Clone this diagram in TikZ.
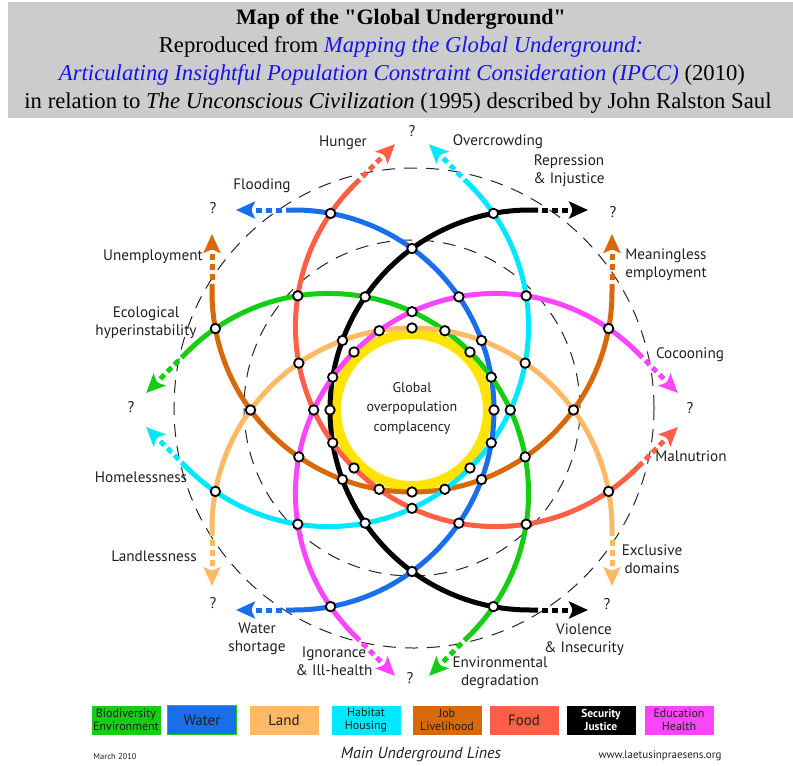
\documentclass[tikz,border=0pt]{standalone}
\usepackage{fontspec}
\setmainfont{Liberation Serif}
\newfontfamily\hdrfont{Liberation Serif}
\newfontfamily\labfont{PT Sans}
\usetikzlibrary{arrows.meta,calc}
\definecolor{cbio}{RGB}{20,205,20}
\definecolor{cwater}{RGB}{25,110,235}
\definecolor{cland}{RGB}{253,185,100}
\definecolor{chab}{RGB}{0,232,255}
\definecolor{cjob}{RGB}{215,105,10}
\definecolor{cfood}{RGB}{255,95,70}
\definecolor{csec}{RGB}{0,0,0}
\definecolor{cedu}{RGB}{250,70,250}
\definecolor{cyel}{RGB}{255,228,0}
\definecolor{hdr}{RGB}{204,204,204}
\definecolor{lnk}{RGB}{20,20,235}
\definecolor{ink}{RGB}{35,31,32}
\begin{document}
\begin{tikzpicture}[x=1pt,y=-1pt,
  lineS/.style={line width=5pt},
  dotS/.style={line width=5pt, dash pattern=on 6pt off 4pt, dash phase=6pt},
  tipS/.style={-{Stealth[length=19pt,width=17pt,inset=4pt]}},
  stn/.style={circle, draw=black, fill=white, line width=1.8pt, minimum size=9.5pt, inner sep=0pt},
  lab/.style={font=\labfont\fontsize{15.2}{18}\selectfont, text=ink, align=center, inner sep=0pt},
  clab/.style={font=\labfont\fontsize{14}{19.5}\selectfont, text=ink, align=center, inner sep=0pt},
  qm/.style={font=\labfont\fontsize{15.5}{16}\selectfont, text=ink, inner sep=0pt},
  dsh/.style={line width=1pt, dash pattern=on 13pt off 9pt, black!85},
  hd/.style={font=\hdrfont\fontsize{22.7}{24}\selectfont, inner sep=0pt},
  leg/.style={minimum width=69pt, minimum height=29pt, inner sep=0pt, align=center, text=ink, font=\labfont\fontsize{12}{13}\selectfont},
]
\useasboundingbox (0,0) rectangle (793,766);
\fill[white] (0,0) rectangle (793,766);
\fill[hdr] (8,2) rectangle (793,118);
\node[hd, font=\hdrfont\bfseries\fontsize{22}{24}\selectfont] (t1) at (401,19) {Map of the "Global Underground"};
\node[hd] (t2) at (401,47) {Reproduced from \textcolor{lnk}{\itshape Mapping the Global Underground:}};
\node[hd] (t3) at (402,75) {\textcolor{lnk}{\itshape Articulating Insightful Population Constraint Consideration (IPCC)} (2010)};
\node[hd] (t4) at (398,103) {in relation to \textit{The Unconscious Civilization} (1995) described by John Ralston Saul};

\begin{scope}[shift={(412,410)}, y=1pt]
  \draw[dsh] (2,2) circle[radius=240];
  \draw[dsh] (0,2) circle[radius=168];
  \draw[cyel, line width=10pt] (0,0) circle[radius=76];
  \foreach \th/\col [count=\k] in {0/csec,45/cfood,90/cjob,135/chab,180/cwater,225/cbio,270/cland,315/cedu} {
    \coordinate (c\k) at (\th:118);
    \coordinate (pa\k) at ($(c\k)+(\th+90:200)+(\th:8)$);
    \coordinate (qa\k) at ($(c\k)+(\th-90:200)+(\th:8)$);
    \draw[\col, lineS] (pa\k) -- ++(\th+180:8) arc[start angle=\th+90, end angle=\th+270, radius=200] -- ++(\th:8);
    \draw[\col, dotS, tipS] (pa\k) -- ++(\th:50) coordinate (pt\k);
    \draw[\col, dotS, tipS] (qa\k) -- ++(\th:50) coordinate (qt\k);
  }
  \foreach \k/\rn in {1/85.8, 2/98.3, 3/122.5} {
    \foreach \i in {0,...,7} {
      \node[stn] (x\k-\i) at ({45*\i+22.5*\k+180}:\rn) {};
    }
  }
  \foreach \i in {0,...,7} {
    \node[stn] (y\i) at ({45*\i+67.5}:212.8) {};
    \node[stn] (z\i) at ({45*\i+90}:161.5) {};
    \node[stn] (w\i) at ({45*\i+180}:82) {};
  }
\end{scope}

\node[clab] (ctr) at (412,408) {Global\\overpopulation\\complacency};
\node[lab] (l1) at (343,143) {Hunger};
\node[lab] (l2) at (498,142) {Overcrowding};
\node[lab] (l3) at (262,186) {Flooding};
\node[lab] (l4) at (569,171) {Repression\\\& Injustice};
\node[lab] (l5) at (153,257) {Unemployment};
\node[lab] (l6) at (666,265) {Meaningless\\employment};
\node[lab] (l7) at (146,323) {Ecological\\hyperinstability};
\node[lab] (l8) at (690,355) {Cocooning};
\node[lab] (l9) at (141,477) {Homelessness};
\node[lab] (l10) at (691,456) {Malnutrion};
\node[lab] (l11) at (154,556) {Landlessness};
\node[lab] (l12) at (652,559) {Exclusive\\domains};
\node[lab] (l13) at (257,639) {Water\\shortage};
\node[lab] (l14) at (584,640) {Violence\\\& Insecurity};
\node[lab] (l15) at (334,661) {Ignorance\\\& Ill-health};
\node[lab] (l16) at (500,673) {Environmental\\degradation};

\node[qm] (q1) at (412,131) {?};
\node[qm] (q2) at (613,212) {?};
\node[qm] (q3) at (690,408) {?};
\node[qm] (q4) at (607,604) {?};
\node[qm] (q5) at (410,678) {?};
\node[qm] (q6) at (213,603) {?};
\node[qm] (q7) at (131,407) {?};
\node[qm] (q8) at (213,208) {?};

\node[leg, fill=cbio] (g1) at (126,720) {Biodiversity\\Environment};
\node[leg, fill=cwater, draw=cbio, line width=0.8pt, font=\labfont\fontsize{15}{16}\selectfont] (g2) at (202,720) {Water};
\node[leg, fill=cland, font=\labfont\fontsize{15}{16}\selectfont] (g3) at (284,720) {Land};
\node[leg, fill=chab] (g4) at (366,720) {Habitat\\Housing};
\node[leg, fill=cjob] (g5) at (447,720) {Job\\Livelihood};
\node[leg, fill=cfood, font=\labfont\fontsize{15}{16}\selectfont] (g6) at (524,720) {Food};
\node[leg, fill=black, text=white, font=\labfont\bfseries\fontsize{11.5}{13}\selectfont] (g7) at (601,720) {Security\\Justice};
\node[leg, fill=cedu] (g8) at (679,720) {Education\\Health};

\node[font=\labfont\fontsize{8.5}{10}\selectfont, text=ink, inner sep=0pt] (m1) at (115,757) {March 2010};
\node[font=\labfont\itshape\fontsize{16}{18}\selectfont, text=ink, inner sep=0pt] (m2) at (421,755) {Main Underground Lines};
\node[font=\labfont\fontsize{11}{12}\selectfont, text=ink, inner sep=0pt] (m3) at (660,756) {www.laetusinpraesens.org};
\end{tikzpicture}
\end{document}
